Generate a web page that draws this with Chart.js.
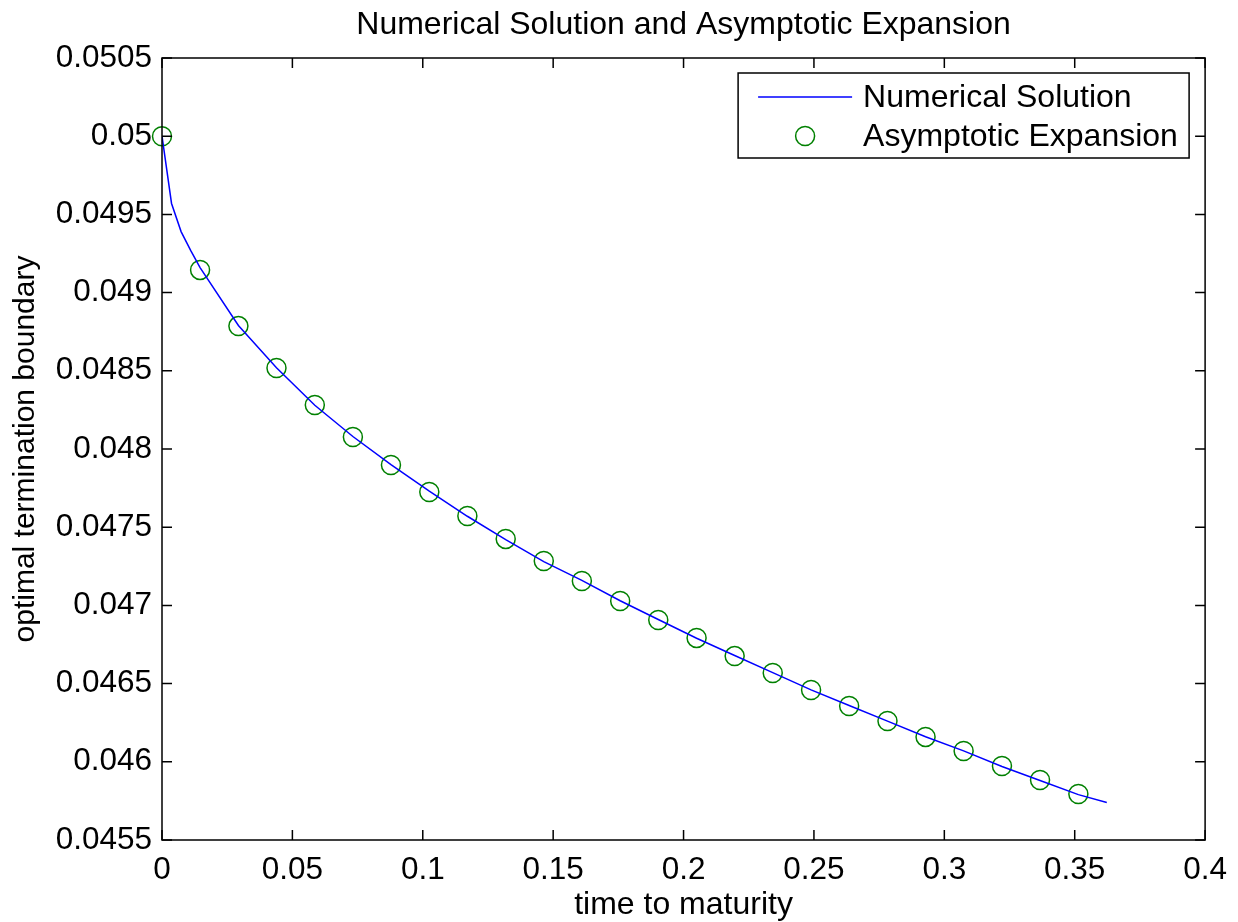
<!DOCTYPE html>
<html>
<head>
<meta charset="utf-8">
<script src="https://cdn.jsdelivr.net/npm/chart.js@4.4.1/dist/chart.umd.min.js"></script>
<style>
  html, body { margin: 0; padding: 0; background: #fff; }
  canvas { display: block; }
</style>
</head>
<body>
<canvas id="chart" width="1238" height="922"></canvas>
<script>
// numerical solution (blue line)
const numX = [0, 0.00366, 0.00732, 0.01098, 0.0146, 0.0293, 0.0439, 0.0586, 0.0732, 0.0878, 0.1025, 0.1171,
  0.1318, 0.1464, 0.1610, 0.1757, 0.1903, 0.2050, 0.2196, 0.2342, 0.2489, 0.2635, 0.2782, 0.2928,
  0.3074, 0.3221, 0.3367, 0.3514, 0.3623];
const numY = [0.05000, 0.04957, 0.04939, 0.04927, 0.04916, 0.04879, 0.04852, 0.04828, 0.04808, 0.04790, 0.04773, 0.04757,
  0.04742, 0.04728, 0.04716, 0.04703, 0.04691, 0.04679, 0.04668, 0.04657, 0.04646, 0.04636, 0.04626, 0.04616,
  0.04607, 0.04597, 0.04588, 0.04579, 0.04574];

// asymptotic expansion (green circles)
const asyX = [0, 0.0146, 0.0293, 0.0439, 0.0586, 0.0732, 0.0878, 0.1025, 0.1171, 0.1318, 0.1464, 0.1610,
  0.1757, 0.1903, 0.2050, 0.2196, 0.2342, 0.2489, 0.2635, 0.2782, 0.2928, 0.3074, 0.3221, 0.3367, 0.3514];
const asyY = [0.05000, 0.049145, 0.048786, 0.048518, 0.048281, 0.048077, 0.047898, 0.047725, 0.047572, 0.047425, 0.047284, 0.047156,
  0.047028, 0.046907, 0.046792, 0.046676, 0.046568, 0.046459, 0.046357, 0.046261, 0.046159, 0.046069, 0.045973, 0.045884, 0.045794];

const xTicks = [0, 0.05, 0.1, 0.15, 0.2, 0.25, 0.3, 0.35, 0.4];
const yTicks = [0.0455, 0.046, 0.0465, 0.047, 0.0475, 0.048, 0.0485, 0.049, 0.0495, 0.05, 0.0505];

const FONT = '"Liberation Sans", Arial, Helvetica, sans-serif';

const toPts = (xs, ys) => xs.map((x, i) => ({ x, y: ys[i] }));

// center the title over the axes, like matlab does
const titleOverAxes = {
  id: 'titleOverAxes',
  afterLayout(chart) {
    const t = chart.titleBlock;
    if (!t) return;
    t.left = chart.chartArea.left;
    t.right = chart.chartArea.right;
  }
};

// matlab style box with inward ticks on all four sides
const boxPlugin = {
  id: 'box',
  afterDraw(chart) {
    const { ctx, chartArea: a, scales } = chart;
    const tl = 10;
    ctx.save();
    ctx.strokeStyle = '#000';
    ctx.lineWidth = 1.5;
    ctx.strokeRect(a.left, a.top, a.right - a.left, a.bottom - a.top);
    ctx.beginPath();
    xTicks.forEach(v => {
      const px = scales.x.getPixelForValue(v);
      ctx.moveTo(px, a.bottom); ctx.lineTo(px, a.bottom - tl);
      ctx.moveTo(px, a.top); ctx.lineTo(px, a.top + tl);
    });
    yTicks.forEach(v => {
      const py = scales.y.getPixelForValue(v);
      ctx.moveTo(a.left, py); ctx.lineTo(a.left + tl, py);
      ctx.moveTo(a.right, py); ctx.lineTo(a.right - tl, py);
    });
    ctx.stroke();
    ctx.restore();
  }
};

// legend box inside the plot, top right
const legendPlugin = {
  id: 'boxLegend',
  afterDraw(chart) {
    const { ctx, chartArea: a } = chart;
    const ds = chart.data.datasets;
    const w = 451, h = 85;
    const x0 = a.right - 16 - w, y0 = a.top + 15;
    ctx.save();
    ctx.fillStyle = '#fff';
    ctx.fillRect(x0, y0, w, h);
    ctx.strokeStyle = '#000';
    ctx.lineWidth = 1.5;
    ctx.strokeRect(x0, y0, w, h);
    const rows = [y0 + 24, y0 + 63];
    // line sample
    ctx.strokeStyle = ds[0].borderColor;
    ctx.lineWidth = 1.5;
    ctx.beginPath();
    ctx.moveTo(x0 + 20, rows[0]); ctx.lineTo(x0 + 114, rows[0]);
    ctx.stroke();
    // marker sample
    ctx.strokeStyle = ds[1].borderColor;
    ctx.beginPath();
    ctx.arc(x0 + 67, rows[1], 9.5, 0, Math.PI * 2);
    ctx.stroke();
    ctx.fillStyle = '#000';
    ctx.font = '32px ' + FONT;
    ctx.textBaseline = 'middle';
    ctx.textAlign = 'left';
    ctx.fillText(ds[0].label, x0 + 125, rows[0] + 1);
    ctx.fillText(ds[1].label, x0 + 125, rows[1] + 1);
    ctx.restore();
  }
};

new Chart(document.getElementById('chart'), {
  type: 'scatter',
  data: {
    datasets: [
      {
        label: 'Numerical Solution',
        data: toPts(numX, numY),
        showLine: true,
        borderColor: '#0000ff',
        borderWidth: 1.5,
        pointRadius: 0,
        tension: 0,
        fill: false
      },
      {
        label: 'Asymptotic Expansion',
        data: toPts(asyX, asyY),
        showLine: false,
        borderColor: '#008000',
        backgroundColor: 'rgba(0,0,0,0)',
        borderWidth: 1.5,
        pointRadius: 9.5,
        pointStyle: 'circle',
        clip: false
      }
    ]
  },
  options: {
    responsive: false,
    animation: false,
    layout: { padding: { top: 0, left: 0, right: 31, bottom: 0 } },
    plugins: {
      legend: { display: false },
      tooltip: { enabled: false },
      title: {
        display: true,
        text: 'Numerical Solution and Asymptotic Expansion',
        color: '#000',
        font: { family: FONT, size: 32, weight: 'normal' },
        padding: { top: 6, bottom: 13.6 }
      }
    },
    scales: {
      x: {
        type: 'linear',
        min: 0,
        max: 0.4,
        grid: { display: false, drawTicks: false },
        border: { display: false },
        afterBuildTicks: s => { s.ticks = xTicks.map(v => ({ value: v })); },
        afterFit: s => { s.height = 82; },
        ticks: {
          color: '#000',
          padding: 11,
          maxRotation: 0,
          font: { family: FONT, size: 31.5 },
          callback: v => String(Number(v.toFixed(2)))
        },
        title: {
          display: true,
          text: 'time to maturity',
          color: '#000',
          font: { family: FONT, size: 32 },
          padding: { top: 0, bottom: -2 }
        }
      },
      y: {
        type: 'linear',
        min: 0.0455,
        max: 0.0505,
        grid: { display: false, drawTicks: false },
        border: { display: false },
        afterBuildTicks: s => { s.ticks = yTicks.map(v => ({ value: v })); },
        afterFit: s => { s.width = 162; },
        ticks: {
          color: '#000',
          padding: 10,
          font: { family: FONT, size: 31.5 },
          callback: v => String(Number(v.toFixed(4)))
        },
        title: {
          display: true,
          text: 'optimal termination boundary',
          color: '#000',
          font: { family: FONT, size: 30 },
          padding: { top: 8, bottom: 0 }
        }
      }
    }
  },
  plugins: [titleOverAxes, boxPlugin, legendPlugin]
});
</script>
</body>
</html>
